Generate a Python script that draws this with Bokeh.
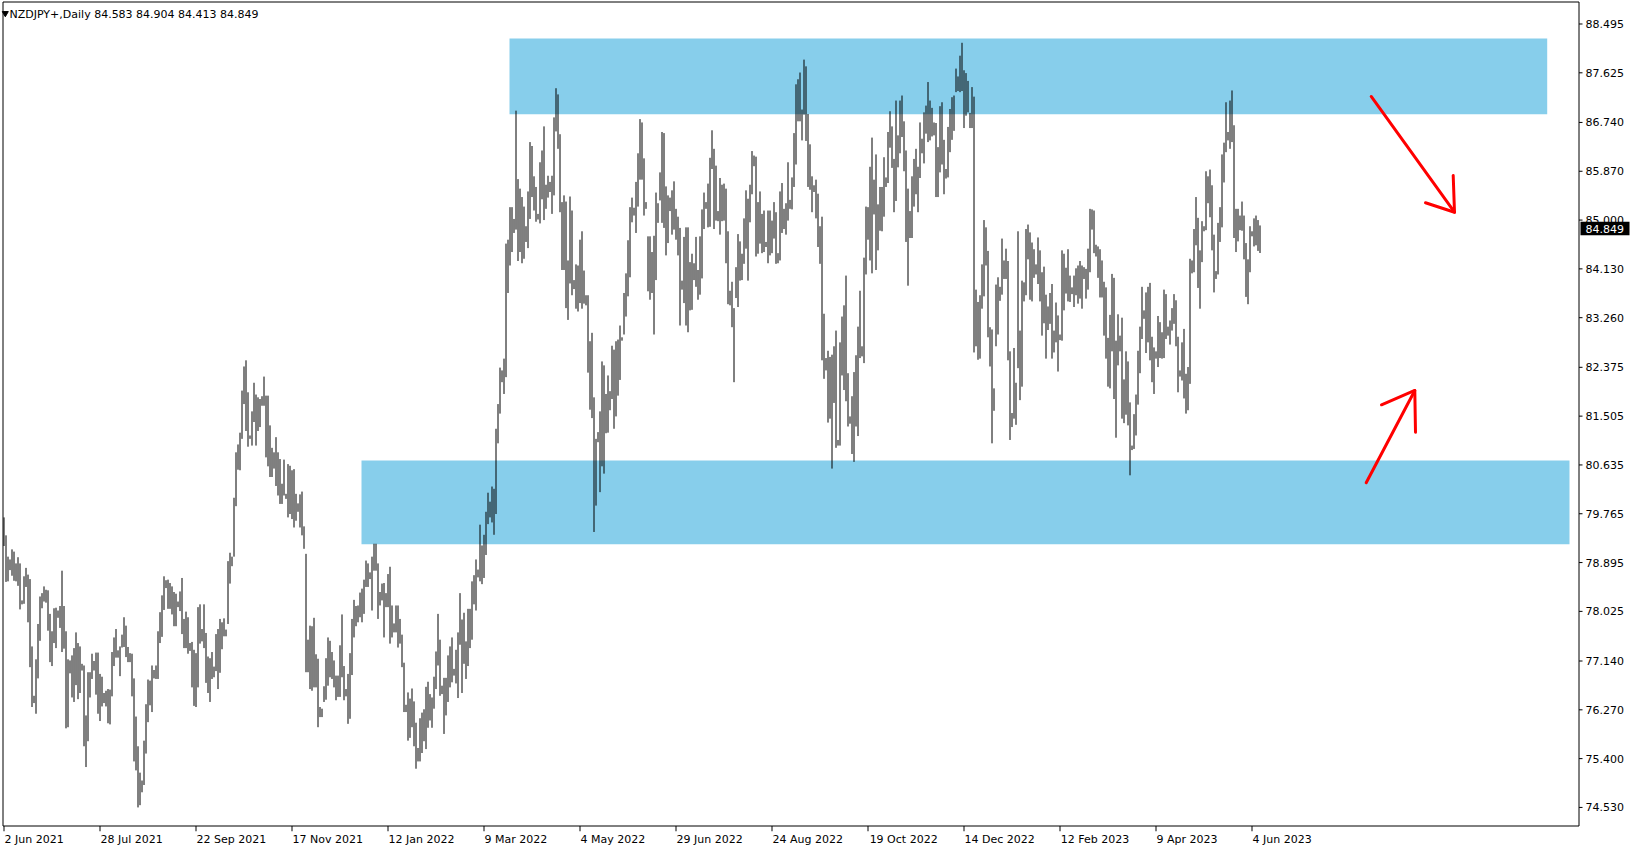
from bokeh.plotting import figure
from bokeh.models import ColumnDataSource, FixedTicker, Range1d
from bokeh.embed import file_html
from bokeh.resources import INLINE
from bokeh.core.properties import value

# ---------------- data ----------------
symbol = "NZDJPY+,Daily"
last_ohlc = ["84.583", "84.904", "84.413", "84.849"]
last_close = 84.849

highs = [
79.70, 79.38, 79.00, 78.95, 79.13, 79.09, 78.88, 78.99, 78.88, 78.22, 78.65, 78.80,
78.68, 78.60, 77.40, 76.52, 77.17, 77.80, 78.29, 78.35, 78.47, 78.41, 78.40, 77.98,
77.67, 78.08, 78.09, 78.04, 78.12, 78.75, 78.12, 77.67, 77.17, 77.15, 77.24, 77.37,
77.65, 77.46, 77.40, 77.09, 77.06, 76.17, 76.94, 76.94, 77.27, 77.14, 77.29, 77.29,
76.91, 76.86, 76.57, 76.61, 76.64, 76.63, 77.30, 77.56, 77.71, 77.33, 77.40, 77.61,
77.92, 77.77, 77.39, 77.28, 77.27, 76.83, 76.15, 75.62, 75.15, 75.01, 75.72, 76.37,
76.81, 76.79, 77.06, 76.98, 77.06, 77.67, 78.01, 78.31, 78.65, 78.58, 78.59, 78.53,
78.47, 78.37, 78.34, 78.20, 78.38, 78.62, 77.89, 78.02, 77.92, 77.46, 77.48, 77.34,
77.28, 78.10, 78.15, 77.71, 78.15, 77.64, 77.22, 77.19, 77.30, 77.04, 77.62, 77.71,
77.89, 77.83, 77.90, 77.70, 78.92, 79.07, 79.00, 80.05, 80.86, 81.00, 81.21, 81.96,
82.39, 82.50, 81.93, 81.16, 81.59, 82.10, 81.89, 81.84, 81.81, 81.86, 82.21, 81.87,
81.87, 81.34, 80.94, 80.86, 81.13, 80.86, 80.74, 80.30, 80.73, 80.12, 80.65, 80.62,
80.54, 80.56, 80.12, 79.95, 80.11, 80.16, 79.54, 79.05, 77.52, 77.77, 77.76, 77.91,
77.26, 77.18, 76.32, 76.29, 76.69, 77.19, 77.56, 77.50, 77.30, 77.15, 76.88, 76.88,
77.42, 77.97, 77.05, 76.64, 76.91, 77.28, 77.89, 78.23, 78.12, 78.13, 78.36, 78.43,
78.59, 78.93, 78.88, 78.72, 79.00, 79.23, 79.23, 78.88, 78.37, 78.52, 78.53, 78.35,
78.69, 78.82, 78.13, 77.81, 78.13, 78.13, 77.89, 77.61, 77.11, 76.36, 76.58, 76.47,
76.65, 76.42, 76.04, 75.59, 76.12, 76.22, 76.28, 76.68, 76.77, 76.55, 76.49, 76.86,
77.31, 77.98, 77.52, 76.70, 76.84, 76.84, 77.24, 77.40, 77.56, 77.00, 77.34, 77.65,
78.35, 77.88, 78.00, 77.49, 78.07, 78.07, 78.56, 78.67, 78.95, 78.77, 79.57, 79.20,
79.39, 79.80, 80.14, 79.98, 80.25, 80.21, 81.28, 81.72, 82.37, 82.32, 82.53, 84.58,
84.65, 85.23, 85.23, 85.02, 86.95, 85.73, 85.56, 85.41, 85.24, 84.89, 85.51, 86.39,
86.32, 85.78, 85.59, 85.11, 86.03, 86.24, 86.67, 85.63, 85.79, 85.68, 85.79, 86.83,
87.35, 87.24, 86.53, 85.32, 85.44, 85.33, 84.28, 85.42, 85.17, 83.93, 84.21, 84.19,
84.65, 84.80, 84.10, 83.66, 83.66, 82.84, 82.99, 81.84, 81.10, 81.22, 81.59, 82.48,
82.41, 81.90, 82.23, 81.95, 82.76, 82.69, 82.84, 82.87, 83.12, 82.91, 83.70, 84.05,
84.64, 85.23, 85.40, 85.22, 85.68, 86.19, 86.80, 86.74, 86.10, 85.32, 84.71, 84.71,
84.43, 84.72, 85.49, 85.30, 85.85, 86.57, 86.55, 85.60, 85.44, 85.40, 85.53, 85.69,
85.20, 85.06, 84.86, 83.92, 84.70, 84.87, 84.87, 84.25, 84.40, 84.23, 84.70, 84.11,
84.71, 85.19, 85.49, 85.32, 85.65, 86.11, 86.60, 86.27, 85.97, 85.16, 85.75, 85.63,
85.65, 85.56, 84.80, 83.74, 83.90, 83.43, 84.16, 84.75, 84.62, 84.40, 85.03, 85.53,
85.38, 85.63, 86.23, 86.15, 86.13, 85.32, 85.51, 85.11, 85.17, 84.61, 85.17, 85.17,
84.99, 85.32, 85.14, 84.41, 85.51, 85.66, 85.20, 85.30, 86.03, 85.36, 85.76, 86.55,
87.42, 87.51, 87.63, 86.97, 87.86, 87.74, 86.89, 86.35, 85.78, 85.62, 85.72, 85.47,
84.89, 85.06, 83.33, 82.54, 82.67, 82.56, 82.60, 82.75, 83.03, 81.08, 82.82, 83.28,
83.48, 84.01, 82.27, 81.50, 81.86, 82.29, 82.59, 83.10, 83.74, 82.75, 84.33, 85.24,
85.23, 85.95, 86.47, 85.72, 86.17, 85.28, 85.59, 85.59, 86.12, 85.76, 86.57, 86.94,
86.67, 86.09, 87.13, 86.51, 87.13, 87.22, 86.76, 86.24, 85.56, 85.16, 85.78, 86.09,
86.27, 85.95, 86.74, 86.45, 86.92, 87.04, 87.46, 87.13, 87.00, 86.74, 86.73, 86.30,
87.03, 87.10, 86.43, 85.91, 86.66, 86.98, 87.19, 87.22, 87.70, 87.56, 87.93, 88.16,
87.67, 87.62, 87.48, 86.91, 87.37, 87.20, 83.76, 83.54, 83.66, 84.21, 85.00, 84.87,
84.45, 83.09, 83.05, 82.00, 83.85, 83.98, 83.81, 84.67, 84.28, 84.49, 84.27, 82.66,
81.56, 82.72, 82.10, 84.80, 83.03, 83.92, 83.89, 84.84, 84.92, 84.78, 84.60, 84.48,
84.21, 84.69, 84.46, 84.07, 84.17, 83.67, 83.46, 83.70, 83.86, 83.03, 83.53, 83.30,
82.96, 84.46, 84.40, 84.15, 84.48, 84.01, 83.80, 84.01, 84.14, 84.19, 84.27, 84.19,
84.16, 84.13, 84.49, 85.20, 85.19, 85.17, 84.56, 84.53, 84.48, 84.28, 83.90, 83.80,
82.90, 83.31, 84.04, 83.97, 82.85, 83.32, 82.94, 83.26, 82.16, 82.66, 82.48, 81.75,
80.98, 81.54, 81.89, 82.67, 83.10, 83.81, 83.39, 83.71, 83.81, 83.88, 82.92, 82.73,
82.66, 83.29, 83.18, 83.00, 83.76, 83.68, 83.10, 83.21, 83.43, 83.68, 83.57, 82.92,
82.32, 82.82, 83.06, 82.26, 82.38, 84.31, 84.28, 84.84, 85.41, 85.04, 84.46, 84.98,
84.89, 85.87, 85.78, 85.90, 85.62, 84.74, 84.09, 84.95, 85.23, 86.17, 86.38, 87.10,
86.57, 87.13, 87.31, 86.69, 85.20, 85.20, 85.08, 85.33, 85.08, 84.59, 84.30, 84.89,
84.80, 85.03, 85.08, 85.00, 84.904,
]

lows = [
79.19, 78.55, 78.56, 78.76, 78.66, 78.57, 78.56, 78.48, 78.06, 78.15, 78.16, 78.46,
77.83, 77.03, 76.32, 76.39, 76.20, 76.83, 77.50, 78.08, 78.20, 78.18, 77.68, 77.12,
77.05, 77.46, 77.37, 77.91, 77.73, 77.30, 77.36, 75.94, 75.96, 76.92, 76.49, 76.41,
76.71, 76.46, 76.57, 76.97, 75.62, 75.25, 75.71, 76.49, 76.82, 76.97, 76.54, 76.20,
76.07, 76.33, 76.39, 76.33, 76.03, 76.01, 76.51, 77.05, 77.20, 77.20, 76.87, 77.38,
77.39, 77.21, 77.12, 77.12, 76.51, 75.35, 75.19, 74.53, 74.57, 74.80, 74.93, 75.49,
76.05, 76.35, 76.23, 76.83, 76.82, 76.82, 77.46, 77.57, 78.05, 78.44, 78.07, 78.07,
77.97, 77.76, 77.76, 78.10, 78.03, 77.62, 77.37, 77.37, 77.27, 77.32, 76.67, 76.34,
76.32, 76.67, 77.45, 77.49, 77.37, 76.75, 76.57, 76.41, 76.82, 76.85, 76.96, 76.64,
76.93, 77.35, 77.58, 77.58, 77.80, 78.52, 78.83, 79.00, 79.90, 80.55, 80.54, 81.10,
81.72, 81.24, 80.96, 81.10, 80.98, 81.40, 80.98, 81.24, 81.31, 81.69, 81.69, 80.77,
80.61, 80.42, 80.42, 80.57, 80.26, 80.09, 79.94, 79.94, 80.09, 80.03, 79.70, 79.76,
79.67, 79.52, 79.64, 79.80, 79.52, 79.38, 79.14, 76.94, 76.94, 76.64, 76.61, 76.67,
76.67, 75.96, 76.14, 76.14, 76.41, 76.45, 76.70, 76.85, 76.82, 76.67, 76.44, 76.50,
76.50, 76.85, 76.44, 76.51, 76.02, 76.11, 76.89, 77.56, 77.76, 77.83, 77.92, 77.83,
77.98, 78.46, 78.46, 78.60, 78.04, 78.75, 78.75, 77.89, 78.13, 78.22, 77.56, 78.10,
78.10, 77.45, 77.56, 77.65, 77.65, 77.38, 77.45, 77.03, 76.23, 76.23, 75.72, 75.77,
75.96, 75.62, 75.22, 75.35, 75.35, 75.50, 75.71, 75.57, 75.95, 76.08, 75.95, 76.29,
76.64, 77.06, 76.52, 76.55, 75.84, 76.17, 76.41, 76.67, 76.76, 76.88, 76.74, 76.48,
77.43, 76.57, 77.09, 76.82, 77.05, 77.37, 77.52, 78.15, 78.04, 78.63, 78.56, 78.51,
78.62, 79.03, 79.58, 79.70, 79.61, 79.39, 79.76, 81.02, 81.55, 82.11, 81.90, 82.20,
83.70, 84.19, 84.43, 84.77, 84.83, 84.27, 84.43, 84.23, 84.31, 84.61, 84.50, 85.02,
85.41, 85.17, 84.97, 85.01, 84.94, 85.37, 85.00, 85.20, 85.40, 85.50, 85.11, 85.44,
86.58, 86.27, 85.14, 84.11, 84.11, 83.43, 83.22, 83.87, 83.66, 83.77, 83.42, 83.37,
83.52, 83.42, 83.51, 83.48, 82.28, 81.62, 81.47, 79.44, 79.91, 81.04, 80.15, 80.61,
80.48, 81.20, 81.21, 81.61, 81.81, 81.28, 81.50, 81.87, 82.15, 82.85, 82.96, 83.28,
83.64, 83.98, 84.96, 85.08, 84.77, 85.24, 85.72, 85.72, 85.08, 85.20, 83.73, 83.58,
83.70, 82.96, 83.93, 84.95, 85.35, 84.95, 84.86, 84.37, 84.59, 85.16, 84.74, 84.83,
84.65, 84.37, 83.12, 83.76, 83.52, 83.12, 83.00, 83.39, 83.40, 83.93, 83.81, 83.58,
83.67, 83.96, 84.84, 85.20, 84.87, 84.88, 85.91, 84.84, 84.99, 84.98, 84.74, 84.98,
84.99, 84.23, 83.50, 83.48, 83.09, 82.11, 83.61, 83.45, 83.92, 83.93, 84.22, 84.49,
83.92, 84.96, 85.46, 85.96, 84.35, 84.40, 84.58, 84.41, 84.43, 84.52, 84.23, 84.37,
84.41, 84.67, 84.22, 84.23, 84.28, 84.77, 84.84, 84.74, 84.99, 85.20, 85.19, 85.59,
85.99, 86.76, 86.76, 86.42, 86.88, 86.41, 85.59, 85.54, 85.14, 85.50, 85.03, 84.52,
84.22, 82.50, 82.17, 82.32, 81.39, 81.46, 80.57, 81.74, 80.94, 80.98, 80.98, 82.23,
81.97, 81.77, 81.32, 81.37, 80.83, 80.69, 81.32, 81.15, 82.54, 82.57, 82.45, 84.03,
84.65, 84.28, 84.05, 85.10, 84.11, 84.46, 84.81, 84.80, 85.06, 85.59, 85.66, 86.29,
85.93, 85.14, 85.34, 85.94, 86.19, 86.48, 85.87, 84.61, 83.83, 84.68, 84.68, 85.24,
85.46, 85.14, 85.75, 86.19, 86.01, 86.54, 86.39, 86.42, 86.49, 86.51, 85.41, 85.41,
85.85, 85.99, 85.46, 85.74, 85.76, 86.21, 86.43, 86.59, 87.28, 87.30, 87.28, 87.30,
86.64, 86.86, 86.92, 86.64, 86.64, 82.64, 82.75, 82.51, 82.53, 83.42, 83.64, 84.19,
82.91, 82.39, 81.02, 81.60, 82.75, 82.96, 83.56, 83.67, 83.95, 83.95, 82.50, 81.08,
81.31, 81.46, 81.35, 82.36, 81.79, 82.03, 83.55, 83.66, 84.30, 83.58, 83.55, 83.97,
84.03, 83.86, 83.55, 82.94, 83.16, 82.53, 83.04, 83.15, 82.53, 82.64, 82.82, 82.30,
82.86, 82.85, 83.39, 83.69, 83.55, 83.54, 83.68, 83.45, 83.66, 83.51, 83.60, 83.42,
83.95, 83.60, 83.76, 84.07, 84.83, 84.41, 84.35, 83.97, 83.62, 83.62, 82.94, 82.53,
82.03, 82.00, 82.66, 81.81, 81.12, 82.41, 82.66, 81.46, 81.38, 81.53, 81.34, 80.45,
80.90, 80.92, 81.16, 81.71, 82.27, 82.88, 83.24, 82.63, 82.82, 82.50, 82.11, 81.90,
82.53, 82.38, 82.54, 82.53, 82.54, 82.88, 82.94, 82.78, 83.03, 83.15, 82.75, 81.93,
82.21, 82.14, 81.82, 81.55, 81.61, 82.08, 84.05, 84.07, 84.55, 83.79, 83.42, 84.25,
84.80, 84.82, 85.30, 85.05, 84.46, 83.71, 83.95, 84.03, 84.61, 84.87, 85.67, 86.21,
86.42, 86.27, 86.39, 84.68, 84.43, 84.62, 84.82, 84.81, 84.30, 83.63, 83.50, 84.07,
84.71, 84.53, 84.55, 84.45, 84.413,
]

date_labels = ["2 Jun 2021", "28 Jul 2021", "22 Sep 2021", "17 Nov 2021", "12 Jan 2022",
               "9 Mar 2022", "4 May 2022", "29 Jun 2022", "24 Aug 2022", "19 Oct 2022",
               "14 Dec 2022", "12 Feb 2023", "9 Apr 2023", "4 Jun 2023"]
bars_per_label = 48

price_ticks = [74.530, 75.400, 76.270, 77.140, 78.025, 78.895, 79.765, 80.635, 81.505,
               82.375, 83.260, 84.130, 85.000, 85.870, 86.740, 87.625, 88.495]

# drawn zones (bar index / price)
zone_start = [252.75, 178.75]
zone_end = [771.6, 782.75]
zone_top = [88.236, 80.714]
zone_bottom = [86.887, 79.222]

# hand-drawn arrows (bar index / price)
arrow_xs = [[683.6, 725.25], [724.6, 725.25, 710.75], [681.1, 705.4], [705.75, 705.4, 688.75]]
arrow_ys = [[87.203, 85.140], [85.794, 85.140, 85.308], [80.317, 81.962], [81.219, 81.962, 81.707]]

# ---------------- layout helpers ----------------
CANVAS_W = 1634
FRAME_H = 831          # chart area (826) + room for the time-scale tick marks
PX_PER_BAR = 2.0
PX_PER_UNIT = 56.1
BAR0_PX = 3.5          # pixel of bar 0
REF_PRICE, REF_PX = 87.625, 72.3
X0 = -BAR0_PX / PX_PER_BAR
X1 = X0 + CANVAS_W / PX_PER_BAR
Y1 = REF_PRICE + REF_PX / PX_PER_UNIT
Y0 = Y1 - FRAME_H / PX_PER_UNIT
CHART_RIGHT_PX = 1578.5
CHART_BOTTOM_PX = 825.5


def px2x(px):
    return X0 + px / PX_PER_BAR


def py2y(py):
    return Y1 - py / PX_PER_UNIT


FONT = "DejaVu Sans"
FS = 11
EM = {' ': 0.318, 'J': 0.295, 'u': 0.634, 'n': 0.634, 'l': 0.278, 'S': 0.635, 'e': 0.615,
      'p': 0.635, 'N': 0.748, 'o': 0.612, 'v': 0.592, 'a': 0.613, 'M': 0.863, 'r': 0.411,
      'y': 0.592, 'g': 0.635, 'D': 0.770, 'c': 0.550, 'O': 0.787, 'F': 0.575, 'b': 0.635,
      'A': 0.684}


def text_w(s):
    return sum(0.636 if ch.isdigit() else EM.get(ch, 0.6) for ch in s) * FS


p = figure(frame_width=CANVAS_W, frame_height=FRAME_H,
           x_range=Range1d(X0, X1), y_range=Range1d(Y0, Y1),
           y_axis_location=None, toolbar_location=None, output_backend="svg",
           min_border_left=0, min_border_top=0, min_border_right=0, min_border_bottom=17,
           background_fill_color="white", border_fill_color="white",
           outline_line_color=None)
p.xgrid.visible = False
p.ygrid.visible = False

n = min(len(highs), len(lows))
src = ColumnDataSource(dict(idx=list(range(n)), high=highs[:n], low=lows[:n]))

# zones
p.quad(left=zone_start, right=zone_end, top=zone_top, bottom=zone_bottom,
       fill_color="#87CEEB", line_color=None, level="underlay")

# bars
p.segment(x0="idx", y0="low", x1="idx", y1="high", source=src,
          line_color="black", line_width=1)

# arrows
p.multi_line(xs=arrow_xs, ys=arrow_ys, line_color="#FF0000", line_width=3,
             line_cap="round", line_join="round")

# chart border (chart area ends where the price scale begins)
bx = [px2x(2.5), px2x(CHART_RIGHT_PX)]
by = [py2y(1.5), py2y(CHART_BOTTOM_PX)]
p.multi_line(xs=[[bx[0], bx[1]], [bx[0], bx[1]], [bx[0], bx[0]], [bx[1], bx[1]]],
             ys=[[by[0], by[0]], [by[1], by[1]], [by[0], by[1]], [by[0], by[1]]],
             line_color="black", line_width=1)

# price scale on the right
p.segment(x0=[px2x(CHART_RIGHT_PX)] * len(price_ticks), x1=[px2x(CHART_RIGHT_PX + 3.5)] * len(price_ticks),
          y0=price_ticks, y1=price_ticks, line_color="black", line_width=1)
p.text(x=[px2x(1585)] * len(price_ticks), y=price_ticks,
       text=[f"{t:.3f}" for t in price_ticks],
       text_font=value(FONT), text_font_size=value(f"{FS}px"), text_color="black",
       text_align="left", text_baseline="middle")

# current price box
box_h = 13.4 / PX_PER_UNIT
p.quad(left=[px2x(1580)], right=[px2x(1629)], top=[last_close + box_h / 2],
       bottom=[last_close - box_h / 2], fill_color="black", line_color=None)
p.text(x=[px2x(1585)], y=[last_close], text=[f"{last_close:.3f}"],
       text_font=value(FONT), text_font_size=value(f"{FS}px"), text_color="white",
       text_align="left", text_baseline="middle")

# header
p.scatter(x=[px2x(4.8)], y=[py2y(12.8)], marker="inverted_triangle", size=6,
          color="black")
p.text(x=[px2x(9)], y=[py2y(13.5)], text=[f"{symbol}  " + " ".join(last_ohlc)],
       text_font=value(FONT), text_font_size=value(f"{FS}px"), text_color="black",
       text_align="left", text_baseline="middle")

# time scale: tick marks under the chart border
tick_bars = [k * bars_per_label for k in range(len(date_labels))]
p.segment(x0=tick_bars, x1=tick_bars, y0=[py2y(CHART_BOTTOM_PX)] * len(tick_bars),
          y1=[py2y(FRAME_H)] * len(tick_bars), line_color="black", line_width=1)

# time axis labels, each starting at its tick
label_pos = [round(t + (text_w(s) / 2 + 0.5) / PX_PER_BAR, 3) for t, s in zip(tick_bars, date_labels)]
xa = p.xaxis[0]
xa.ticker = FixedTicker(ticks=label_pos)
xa.major_label_overrides = {pos: s for pos, s in zip(label_pos, date_labels)}
xa.axis_line_color = None
xa.major_tick_in = 0
xa.major_tick_out = 0
xa.minor_tick_in = 0
xa.minor_tick_out = 0
xa.major_label_standoff = 1
xa.major_label_text_font = FONT
xa.major_label_text_font_size = f"{FS}px"
xa.major_label_text_color = "black"

open("out.html", "w").write(file_html(p, INLINE))
